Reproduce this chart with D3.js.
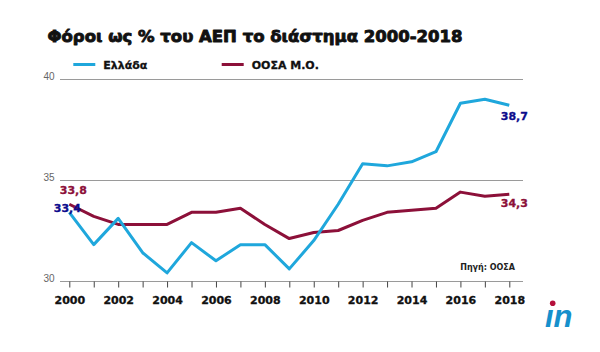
<!DOCTYPE html>
<html>
<head>
<meta charset="utf-8">
<script src="https://cdn.jsdelivr.net/npm/d3@7"></script>
<style>
  html, body { margin: 0; padding: 0; background: #fff; }
  svg { display: block; }
</style>
</head>
<body>
<svg id="chart" width="600" height="352"></svg>
<script>
const years = [2000,2001,2002,2003,2004,2005,2006,2007,2008,2009,2010,2011,2012,2013,2014,2015,2016,2017,2018];
const greece = [33.4,31.8,33.1,31.4,30.4,31.9,31.0,31.8,31.8,30.6,32.0,33.8,35.8,35.7,35.9,36.4,38.8,39.0,38.7];
const oecd   = [33.8,33.2,32.8,32.8,32.8,33.4,33.4,33.6,32.8,32.1,32.4,32.5,33.0,33.4,33.5,33.6,34.4,34.2,34.3];
const yTicks = [30, 35, 40];
const xLabelYears = [2000,2002,2004,2006,2008,2010,2012,2014,2016,2018];
const seriesNames = ["Ελλάδα", "ΟΟΣΑ Μ.Ο."];
const titleText = "Φόροι ως % του ΑΕΠ το διάστημα 2000-2018";
const sourceText = "Πηγή: ΟΟΣΑ";

const BLUE = "#1fa7dc", RED = "#8c1039", NAVY = "#0c0c8c", GRID = "#9a9a9a";
const BOLD = "'DejaVu Sans', sans-serif";

const svg = d3.select("#chart");
const x = d3.scaleLinear().domain([2000, 2018]).range([69.3, 509.3]);
const y = d3.scaleLinear().domain([30, 40]).range([281, 79]);

// title
const title = svg.append("text").attr("x", 47.5).attr("y", 41.8)
  .attr("font-family", BOLD).attr("font-weight", "bold").attr("font-size", 18)
  .attr("fill", "#111").text(titleText);
const tw = title.node().getComputedTextLength();
title.attr("font-size", 18 * 415 / tw)
  .attr("stroke", "#111").attr("stroke-width", 0.9).attr("stroke-linejoin", "round");

// legend
const legend = [{name: seriesNames[0], color: BLUE, x: 73.3}, {name: seriesNames[1], color: RED, x: 221.7}];
legend.forEach(l => {
  svg.append("line").attr("x1", l.x).attr("x2", l.x + 22).attr("y1", 64.5).attr("y2", 64.5)
    .attr("stroke", l.color).attr("stroke-width", 3);
  svg.append("text").attr("x", l.x + 30).attr("y", 68.5)
    .attr("font-family", BOLD).attr("font-weight", "bold").attr("font-size", 11)
    .attr("fill", "#111").attr("stroke", "#111").attr("stroke-width", 0.3).text(l.name);
});

// gridlines
svg.append("g").selectAll("line").data(yTicks).join("line")
  .attr("x1", 60).attr("x2", 523)
  .attr("y1", d => y(d) + 0.5).attr("y2", d => y(d) + 0.5)
  .attr("stroke", GRID).attr("stroke-width", 1);
svg.append("g").selectAll("text").data(yTicks).join("text")
  .attr("x", 54.5).attr("y", d => y(d) + 0.5).attr("text-anchor", "end")
  .attr("font-family", "'Liberation Sans', Arial, sans-serif").attr("font-size", 10)
  .attr("fill", "#666").text(d => d);

// x axis
const xAxis = d3.axisBottom(x).tickValues(years).tickSize(6).tickFormat(d => xLabelYears.includes(d) ? d : "");
const gx = svg.append("g").attr("transform", `translate(0,${y(30) + 0.5})`).call(xAxis);
gx.select(".domain").remove();
gx.selectAll(".tick line").attr("stroke", "#444");
gx.selectAll(".tick text").attr("font-family", BOLD).attr("font-weight", "bold")
  .attr("font-size", 11).attr("fill", "#111").attr("stroke", "#111").attr("stroke-width", 0.3)
  .attr("dy", "0").attr("y", 22.5);

// lines
const line = d3.line().x((d, i) => x(years[i])).y(d => y(d));
svg.append("path").datum(oecd).attr("d", line).attr("fill", "none")
  .attr("stroke", RED).attr("stroke-width", 3).attr("stroke-linejoin", "round");
svg.append("path").datum(greece).attr("d", line).attr("fill", "none")
  .attr("stroke", BLUE).attr("stroke-width", 3).attr("stroke-linejoin", "round");

// value labels
const fmt = v => d3.format(".1f")(v).replace(".", ",");
const last = years.length - 1;
const labels = [
  {v: oecd[0], xx: x(years[0]) - 9.5, yy: y(oecd[0]) - 10.7, c: RED},
  {v: greece[0], xx: x(years[0]) - 15.5, yy: y(greece[0]) - 0.6, c: NAVY},
  {v: greece[last], xx: x(years[last]) - 8.5, yy: y(greece[last]) + 14.7, c: NAVY},
  {v: oecd[last], xx: x(years[last]) - 8.5, yy: y(oecd[last]) + 13.2, c: RED}
];
svg.append("g").selectAll("text").data(labels).join("text")
  .attr("x", d => d.xx).attr("y", d => d.yy)
  .attr("font-family", BOLD).attr("font-weight", "bold").attr("font-size", 11)
  .attr("fill", d => d.c).attr("stroke", d => d.c).attr("stroke-width", 0.3).text(d => fmt(d.v));

// source
svg.append("text").attr("x", 515).attr("y", 270).attr("text-anchor", "end")
  .attr("font-family", BOLD).attr("font-weight", "bold").attr("font-size", 8)
  .attr("fill", "#222").text(sourceText);

// logo
svg.append("text").attr("x", 545).attr("y", 327)
  .attr("font-family", "'Liberation Sans', Arial, sans-serif").attr("font-weight", "bold")
  .attr("font-style", "italic").attr("font-size", 31).attr("fill", "#1690cc").text("ın");
svg.append("circle").attr("cx", 552.7).attr("cy", 303.3).attr("r", 2.8).attr("fill", "#b5103c");
</script>
</body>
</html>
